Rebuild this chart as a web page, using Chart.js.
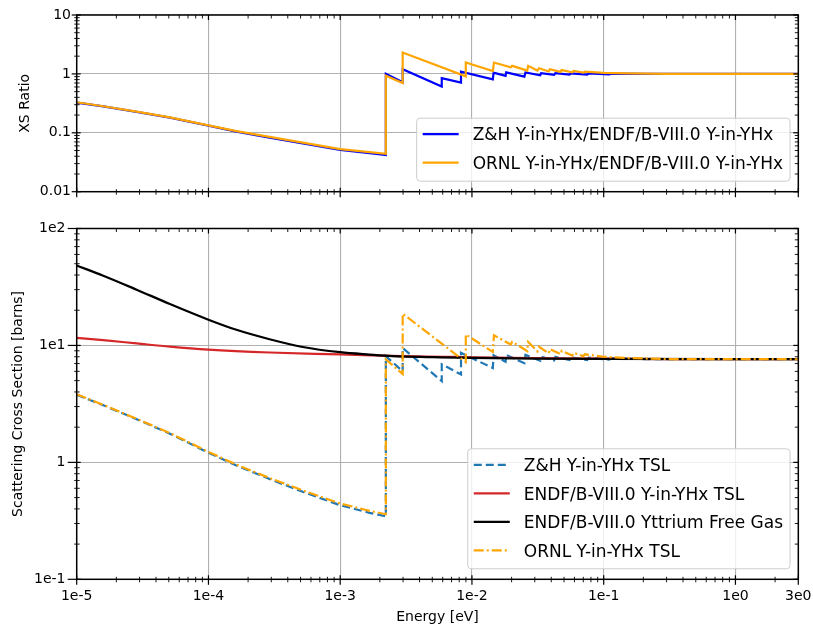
<!DOCTYPE html>
<html>
<head>
<meta charset="utf-8">
<script src="https://cdn.jsdelivr.net/npm/chart.js@4.4.1/dist/chart.umd.min.js"></script>
<style>
  html, body { margin: 0; padding: 0; background: #ffffff; }
  #wrap { position: relative; width: 813px; height: 631px; }
  #wrap canvas { position: absolute; left: 0; }
</style>
</head>
<body>
<div id="wrap">
  <canvas id="ratioChart" width="813" height="215" style="top:0px"></canvas>
  <canvas id="xsChart" width="813" height="416" style="top:215px"></canvas>
</div>
<script>
// ---- energies [eV] and scattering cross sections [barns] ----
const zhEnergy = [1e-5, 1.59e-5, 2.85e-5, 5.1e-5, 1e-4, 1.63e-4, 2.91e-4, 5.2e-4, 1e-3, 1.67e-3,
  2.22e-3, 2.22e-3, 2.98e-3, 2.98e-3, 5.9e-3, 5.9e-3, 8.26e-3, 8.26e-3, 1.44e-2, 1.46e-2,
  1.8e-2, 1.82e-2, 2.5e-2, 2.55e-2, 3.3e-2, 3.35e-2, 4.2e-2, 4.3e-2, 5.5e-2, 5.6e-2,
  7.5e-2, 7.7e-2, 0.11, 0.115, 0.2, 1, 3];
const zhXS = [3.78, 3.08, 2.34, 1.76, 1.21, 0.94, 0.72, 0.56, 0.43, 0.37,
  0.346, 8.1, 6.0, 9.5, 4.95, 6.9, 5.65, 8.65, 6.4, 8.25,
  7.25, 8.3, 7.05, 8.3, 7.4, 8.0, 7.45, 8.0, 7.5, 7.9,
  7.5, 7.85, 7.55, 7.75, 7.65, 7.63, 7.62];
const zhRatio = [0.326, 0.28, 0.227, 0.181, 0.132, 0.105, 0.083, 0.066, 0.051, 0.045,
  0.042, 1.0, 0.72, 1.2, 0.61, 0.85, 0.71, 1.09, 0.81, 1.05,
  0.925, 1.06, 0.9, 1.06, 0.95, 1.03, 0.96, 1.03, 0.97, 1.02,
  0.97, 1.02, 0.98, 1.01, 1.0, 1.0, 1.0];

const ornlEnergy = [1e-5, 1.59e-5, 2.85e-5, 5.1e-5, 1e-4, 1.63e-4, 2.91e-4, 5.2e-4, 1e-3, 1.67e-3,
  2.22e-3, 2.22e-3, 2.98e-3, 2.98e-3, 8.98e-3, 8.98e-3, 1.44e-2, 1.47e-2, 1.97e-2, 2.02e-2,
  2.63e-2, 2.67e-2, 3.14e-2, 3.23e-2, 3.83e-2, 3.9e-2, 4.71e-2, 4.8e-2, 5.77e-2, 5.9e-2,
  7e-2, 7.2e-2, 0.1, 0.15, 0.3, 1, 3];
const ornlXS = [3.82, 3.1, 2.36, 1.78, 1.23, 0.955, 0.735, 0.575, 0.445, 0.385,
  0.36, 7.6, 5.7, 18.7, 7.2, 12.4, 8.8, 12.2, 10.2, 10.75,
  8.95, 10.7, 8.9, 9.75, 8.55, 9.3, 8.4, 9.0, 8.2, 8.65,
  8.1, 8.4, 8.0, 7.8, 7.65, 7.63, 7.62];
const ornlRatio = [0.33, 0.282, 0.229, 0.183, 0.134, 0.107, 0.085, 0.068, 0.053, 0.047,
  0.044, 0.93, 0.70, 2.31, 0.91, 1.56, 1.12, 1.56, 1.30, 1.37,
  1.14, 1.37, 1.14, 1.25, 1.10, 1.20, 1.08, 1.16, 1.06, 1.12,
  1.05, 1.09, 1.04, 1.02, 1.0, 1.0, 1.0];

const endfEnergy = [1e-5, 1.59e-5, 2.85e-5, 5.1e-5, 1e-4, 2.91e-4, 1e-3, 2e-3, 3e-3, 6e-3,
  1e-2, 2e-2, 5e-2, 0.1, 0.3, 1, 3];
const endfXS = [11.6, 11.1, 10.4, 9.75, 9.2, 8.7, 8.37, 8.18, 8.1, 8.0,
  7.92, 7.85, 7.75, 7.7, 7.65, 7.63, 7.62];

const freeGasEnergy = [1e-5, 1.59e-5, 2.85e-5, 5.1e-5, 1e-4, 1.63e-4, 2.91e-4, 5.2e-4, 1e-3, 1.67e-3,
  2.5e-3, 5e-3, 1e-2, 3e-2, 0.1, 1, 3];
const freeGasXS = [48.2, 39.5, 30.0, 22.6, 16.6, 13.6, 11.3, 9.7, 8.75, 8.35,
  8.1, 7.95, 7.82, 7.72, 7.68, 7.65, 7.65];

// ---- axis ticks ----
const xTickValues = [1e-5, 1e-4, 1e-3, 1e-2, 1e-1, 1, 3];
const xTickLabels = ['1e-5', '1e-4', '1e-3', '1e-2', '1e-1', '1e0', '3e0'];
const ratioTickValues = [0.01, 0.1, 1, 10];
const ratioTickLabels = ['0.01', '0.1', '1', '10'];
const xsTickValues = [0.1, 1, 10, 100];
const xsTickLabels = ['1e-1', '1', '1e1', '1e2'];

const FONT = 'DejaVu Sans';
Chart.defaults.font.family = FONT;
Chart.defaults.color = '#000000';

const pts = (xs, ys) => xs.map((x, i) => ({ x: x, y: ys[i] }));

// minor decade ticks (2..9 x 10^k) strictly inside the axis range
function minorTicks(min, max, majors) {
  const out = [];
  for (let k = Math.floor(Math.log10(min)); k <= Math.ceil(Math.log10(max)); k++) {
    for (let m = 2; m <= 9; m++) {
      const v = m * Math.pow(10, k);
      if (v > min * 1.0001 && v < max * 0.9999 &&
          !majors.some(t => Math.abs(t - v) / v < 1e-6)) out.push(v);
    }
  }
  return out;
}

// axes frame with tick marks on all four sides
const frameTicks = {
  id: 'frameTicks',
  afterDraw(chart, args, o) {
    const { ctx, chartArea: a, scales } = chart;
    const x = scales.x, y = scales.y;
    ctx.save();
    ctx.strokeStyle = '#000000';
    ctx.lineCap = 'butt';
    const seg = (x1, y1, x2, y2, w) => {
      ctx.lineWidth = w; ctx.beginPath(); ctx.moveTo(x1, y1); ctx.lineTo(x2, y2); ctx.stroke();
    };
    const xMinor = minorTicks(x.min, x.max, xTickValues);
    const yMinor = minorTicks(y.min, y.max, o.yMajor);
    xTickValues.forEach(v => {
      const p = x.getPixelForValue(v);
      seg(p, a.bottom - 4, p, a.bottom + 5.5, 1.2);
      seg(p, a.top, p, a.top + 5, 1.2);
    });
    xMinor.forEach(v => {
      const p = x.getPixelForValue(v);
      seg(p, a.bottom - 2.5, p, a.bottom + 3, 0.9);
      seg(p, a.top, p, a.top + 3.5, 0.9);
    });
    o.yMajor.forEach(v => {
      const p = y.getPixelForValue(v);
      seg(a.left - o.leftOut, p, a.left + 4, p, 1.2);
      seg(a.right - 5, p, a.right, p, 1.2);
    });
    yMinor.forEach(v => {
      const p = y.getPixelForValue(v);
      seg(a.left - 2.5, p, a.left + 3, p, 0.9);
      seg(a.right - 3.5, p, a.right, p, 0.9);
    });
    ctx.lineWidth = 1.5;
    ctx.strokeRect(a.left, a.top, a.right - a.left, a.bottom - a.top);
    ctx.restore();
  }
};

// framed legend in the lower right corner of the plot area
const cornerLegend = {
  id: 'cornerLegend',
  afterDatasetsDraw(chart, args, o) {
    const { ctx, chartArea: a } = chart;
    const sets = chart.data.datasets;
    const fs = 17, padL = 6, lineLen = 36, gap = 14, padR = 7, rowH = 28.5;
    ctx.save();
    ctx.font = fs + 'px "' + FONT + '"';
    const tw = Math.max(...sets.map(d => ctx.measureText(d.label).width));
    const w = padL + lineLen + gap + tw + padR;
    const h = 16 + (sets.length - 1) * rowH + 18.5;
    const right = a.right - 8.3, bottom = a.bottom - 10.5;
    const left = right - w, top = bottom - h;
    ctx.beginPath();
    if (ctx.roundRect) ctx.roundRect(left, top, w, h, 3.5); else ctx.rect(left, top, w, h);
    ctx.fillStyle = 'rgba(255,255,255,0.8)';
    ctx.fill();
    ctx.lineWidth = 1;
    ctx.strokeStyle = '#cccccc';
    ctx.stroke();
    sets.forEach((d, i) => {
      const ry = top + 16 + i * rowH;
      ctx.beginPath();
      ctx.setLineDash(d.borderDash || []);
      ctx.strokeStyle = d.borderColor;
      ctx.lineWidth = d.borderWidth;
      ctx.moveTo(left + padL, ry);
      ctx.lineTo(left + padL + lineLen, ry);
      ctx.stroke();
      ctx.setLineDash([]);
      ctx.fillStyle = '#000000';
      ctx.textBaseline = 'alphabetic';
      ctx.textAlign = 'left';
      ctx.fillText(d.label, left + padL + lineLen + gap, ry + 0.365 * fs);
    });
    ctx.restore();
  }
};

function energyAxis(showLabels, height) {
  return {
    type: 'logarithmic',
    min: 1e-5,
    max: 3,
    afterBuildTicks: s => { s.ticks = xTickValues.map(v => ({ value: v })); },
    afterFit: s => { s.height = height; s.paddingLeft = 0; s.paddingRight = 0; },
    grid: { color: '#b0b0b0', lineWidth: 1.1, drawTicks: false },
    border: { display: false },
    ticks: {
      display: showLabels, autoSkip: false, maxRotation: 0, minRotation: 0, padding: 9,
      color: '#000000', font: { family: FONT, size: 14 },
      callback: (v, i) => xTickLabels[i]
    },
    title: {
      display: showLabels, text: 'Energy [eV]', color: '#000000',
      font: { family: FONT, size: 14 }, padding: { top: 0, bottom: 5.6 }
    }
  };
}

function valueAxis(min, max, values, labels, labelPad, title, titlePad) {
  return {
    type: 'logarithmic',
    min: min,
    max: max,
    afterBuildTicks: s => { s.ticks = values.map(v => ({ value: v })); },
    afterFit: s => { s.width = 76.7; s.paddingTop = 0; s.paddingBottom = 0; },
    grid: { color: '#b0b0b0', lineWidth: 1.1, drawTicks: false },
    border: { display: false },
    ticks: {
      autoSkip: false, padding: labelPad, color: '#000000',
      font: { family: FONT, size: 14 },
      callback: (v, i) => labels[i]
    },
    title: {
      display: true, text: title, color: '#000000',
      font: { family: FONT, size: 14 }, padding: { top: titlePad, bottom: 0 }
    }
  };
}

const common = {
  responsive: false,
  animation: false,
  devicePixelRatio: 1,
  events: [],
  elements: { point: { radius: 0 } }
};

// upper panel: ratios to the ENDF/B-VIII.0 evaluation
new Chart(document.getElementById('ratioChart'), {
  type: 'line',
  data: {
    datasets: [
      { label: 'Z&H Y-in-YHx/ENDF/B-VIII.0 Y-in-YHx', data: pts(zhEnergy, zhRatio),
        borderColor: '#0000ff', borderWidth: 2.2, tension: 0, order: 1 },
      { label: 'ORNL Y-in-YHx/ENDF/B-VIII.0 Y-in-YHx', data: pts(ornlEnergy, ornlRatio),
        borderColor: '#ffa500', borderWidth: 2.2, tension: 0, order: 0 }
    ]
  },
  options: Object.assign({}, common, {
    layout: { padding: { top: 15, right: 14.7, left: 0, bottom: 0 } },
    scales: {
      x: energyAxis(false, 23.3),
      y: valueAxis(0.01, 10, ratioTickValues, ratioTickLabels, 5.7, 'XS Ratio', 17)
    },
    plugins: {
      legend: { display: false },
      tooltip: { enabled: false },
      frameTicks: { yMajor: ratioTickValues, leftOut: 5 },
      cornerLegend: {}
    }
  }),
  plugins: [frameTicks, cornerLegend]
});

// lower panel: scattering cross sections
new Chart(document.getElementById('xsChart'), {
  type: 'line',
  data: {
    datasets: [
      { label: 'Z&H Y-in-YHx TSL', data: pts(zhEnergy, zhXS),
        borderColor: '#1f77b4', borderWidth: 2.2, borderDash: [8, 4], tension: 0, order: 3 },
      { label: 'ENDF/B-VIII.0 Y-in-YHx TSL', data: pts(endfEnergy, endfXS),
        borderColor: '#d62728', borderWidth: 2.2, cubicInterpolationMode: 'monotone', order: 2 },
      { label: 'ENDF/B-VIII.0 Yttrium Free Gas', data: pts(freeGasEnergy, freeGasXS),
        borderColor: '#000000', borderWidth: 2.2, cubicInterpolationMode: 'monotone', order: 1 },
      { label: 'ORNL Y-in-YHx TSL', data: pts(ornlEnergy, ornlXS),
        borderColor: '#ffa500', borderWidth: 2.2, borderDash: [10, 3, 2, 3], tension: 0, order: 0 }
    ]
  },
  options: Object.assign({}, common, {
    layout: { padding: { top: 13.5, right: 14.7, left: 0, bottom: 0 } },
    scales: {
      x: energyAxis(true, 51.7),
      y: valueAxis(0.1, 100, xsTickValues, xsTickLabels, 11.2, 'Scattering Cross Section [barns]', 10.3)
    },
    plugins: {
      legend: { display: false },
      tooltip: { enabled: false },
      frameTicks: { yMajor: xsTickValues, leftOut: 9 },
      cornerLegend: {}
    }
  }),
  plugins: [frameTicks, cornerLegend]
});
</script>
</body>
</html>
